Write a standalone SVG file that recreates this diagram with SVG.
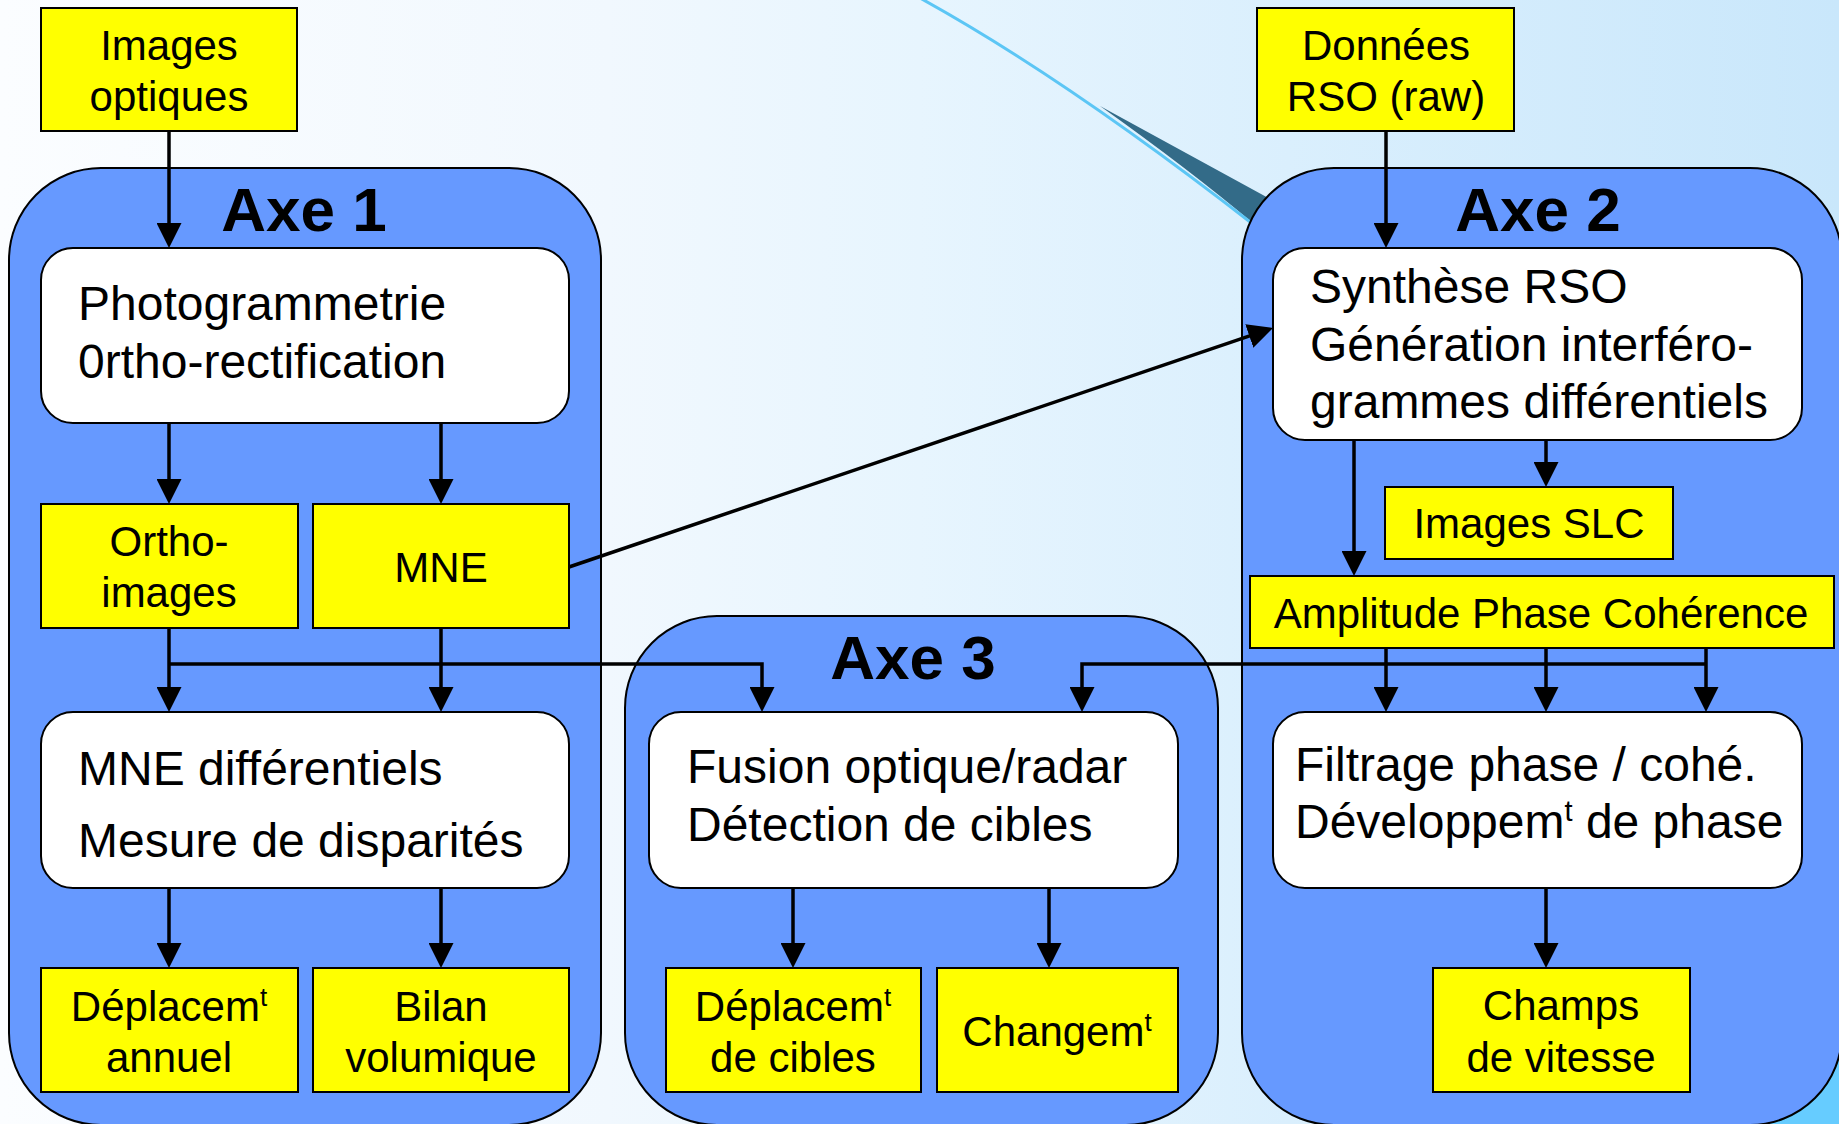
<svg xmlns="http://www.w3.org/2000/svg" width="1839" height="1124" viewBox="0 0 1839 1124">
<defs>
<linearGradient id="bg" x1="0" y1="0" x2="1" y2="0">
<stop offset="0" stop-color="#fbfdff"/>
<stop offset="0.33" stop-color="#f1f8fe"/>
<stop offset="0.5" stop-color="#e7f5fe"/>
<stop offset="0.7" stop-color="#daeffd"/>
<stop offset="1" stop-color="#c9e7fb"/>
</linearGradient>
<marker id="ah" viewBox="0 0 25 25" refX="5" refY="12.5" markerWidth="25" markerHeight="25" orient="auto" markerUnits="userSpaceOnUse">
<path d="M0,0 L25,12.5 L0,25 z" fill="#000"/>
</marker>
<style>
.axe{fill:#6699ff;stroke:#000;stroke-width:2}
.yel{fill:#ffff00;stroke:#000;stroke-width:2}
.wht{fill:#ffffff;stroke:#000;stroke-width:2}
text{font-family:"Liberation Sans",Arial,sans-serif;fill:#000}
.t42{font-size:42px;text-anchor:middle}
.t48{font-size:48px}
.ttl{font-size:62px;font-weight:bold;text-anchor:middle}
.con{fill:none;stroke:#000;stroke-width:3.5}
.arr{marker-end:url(#ah)}
</style>
</defs>
<rect x="0" y="0" width="1839" height="1124" fill="url(#bg)"/>
<rect x="1700" y="990" width="139" height="134" fill="#66ccff"/>
<path d="M1100,106 L1272,200 L1254,224 Q1190,170 1100,106 Z" fill="#336b88"/>
<path d="M920,-2 Q1065,78 1254,225" fill="none" stroke="#5cc6f5" stroke-width="3"/>

<g id="axe1">
<rect class="axe" x="9" y="168" width="592" height="957" rx="92"/>
<text class="ttl" x="304" y="231">Axe 1</text>
</g>
<g id="axe3">
<rect class="axe" x="625" y="616" width="593" height="509" rx="92"/>
<text class="ttl" x="913" y="679">Axe 3</text>
</g>
<g id="axe2">
<rect class="axe" x="1242" y="168" width="600" height="957" rx="92"/>
<text class="ttl" x="1538" y="231">Axe 2</text>
</g>

<g id="images-optiques">
<rect class="yel" x="41" y="8" width="256" height="123"/>
<text class="t42" x="169" y="60">Images</text>
<text class="t42" x="169" y="111">optiques</text>
</g>
<g id="donnees-rso">
<rect class="yel" x="1257" y="8" width="257" height="123"/>
<text class="t42" x="1386" y="60">Données</text>
<text class="t42" x="1386" y="111">RSO (raw)</text>
</g>
<g id="photogrammetrie">
<rect class="wht" x="41" y="248" width="528" height="175" rx="32"/>
<text class="t48" x="78" y="320">Photogrammetrie</text>
<text class="t48" x="78" y="378">0rtho-rectification</text>
</g>
<g id="ortho-images">
<rect class="yel" x="41" y="504" width="257" height="124"/>
<text class="t42" x="169" y="556">Ortho-</text>
<text class="t42" x="169" y="607">images</text>
</g>
<g id="mne">
<rect class="yel" x="313" y="504" width="256" height="124"/>
<text class="t42" x="441" y="582">MNE</text>
</g>
<g id="mne-differentiels">
<rect class="wht" x="41" y="712" width="528" height="176" rx="32"/>
<text class="t48" x="78" y="785">MNE différentiels</text>
<text class="t48" x="78" y="857">Mesure de disparités</text>
</g>
<g id="deplacement-annuel">
<rect class="yel" x="41" y="968" width="257" height="124"/>
<text class="t42" x="169" y="1021">Déplacem<tspan font-size="26" dy="-15">t</tspan></text>
<text class="t42" x="169" y="1072">annuel</text>
</g>
<g id="bilan-volumique">
<rect class="yel" x="313" y="968" width="256" height="124"/>
<text class="t42" x="441" y="1021">Bilan</text>
<text class="t42" x="441" y="1072">volumique</text>
</g>
<g id="fusion">
<rect class="wht" x="649" y="712" width="529" height="176" rx="32"/>
<text class="t48" x="687" y="783">Fusion optique/radar</text>
<text class="t48" x="687" y="841">Détection de cibles</text>
</g>
<g id="deplacement-cibles">
<rect class="yel" x="666" y="968" width="255" height="124"/>
<text class="t42" x="793" y="1021">Déplacem<tspan font-size="26" dy="-15">t</tspan></text>
<text class="t42" x="793" y="1072">de cibles</text>
</g>
<g id="changement">
<rect class="yel" x="937" y="968" width="241" height="124"/>
<text class="t42" x="1057" y="1046">Changem<tspan font-size="26" dy="-15">t</tspan></text>
</g>
<g id="synthese-rso">
<rect class="wht" x="1273" y="248" width="529" height="192" rx="32"/>
<text class="t48" x="1310" y="303">Synthèse RSO</text>
<text class="t48" x="1310" y="361">Génération interféro-</text>
<text class="t48" x="1310" y="418">grammes différentiels</text>
</g>
<g id="images-slc">
<rect class="yel" x="1385" y="487" width="288" height="72"/>
<text class="t42" x="1529" y="538">Images SLC</text>
</g>
<g id="amplitude-phase-coherence">
<rect class="yel" x="1250" y="576" width="584" height="72"/>
<text class="t42" x="1541" y="628">Amplitude Phase Cohérence</text>
</g>
<g id="filtrage">
<rect class="wht" x="1273" y="712" width="529" height="176" rx="32"/>
<text class="t48" x="1295" y="781">Filtrage phase / cohé.</text>
<text class="t48" x="1295" y="838">Développem<tspan font-size="29" dy="-17">t</tspan><tspan dy="17"> de phase</tspan></text>
</g>
<g id="champs-vitesse">
<rect class="yel" x="1433" y="968" width="257" height="124"/>
<text class="t42" x="1561" y="1020">Champs</text>
<text class="t42" x="1561" y="1072">de vitesse</text>
</g>

<g id="connectors">
<path class="con arr" d="M169,131 V228"/>
<path class="con arr" d="M1386,131 V228"/>
<path class="con arr" d="M169,423 V484"/>
<path class="con arr" d="M441,423 V484"/>
<path class="con arr" d="M169,628 V692"/>
<path class="con arr" d="M441,628 V692"/>
<path class="con arr" d="M169,664 H762 V692"/>
<path class="con arr" d="M569,567 L1254.06,334.43"/>
<path class="con arr" d="M1354,440 V556"/>
<path class="con arr" d="M1546,440 V467"/>
<path class="con arr" d="M1386,648 V692"/>
<path class="con arr" d="M1546,648 V692"/>
<path class="con arr" d="M1706,648 V692"/>
<path class="con arr" d="M1706,664 H1082 V692"/>
<path class="con arr" d="M169,888 V948"/>
<path class="con arr" d="M441,888 V948"/>
<path class="con arr" d="M793,888 V948"/>
<path class="con arr" d="M1049,888 V948"/>
<path class="con arr" d="M1546,888 V948"/>
</g>
</svg>
